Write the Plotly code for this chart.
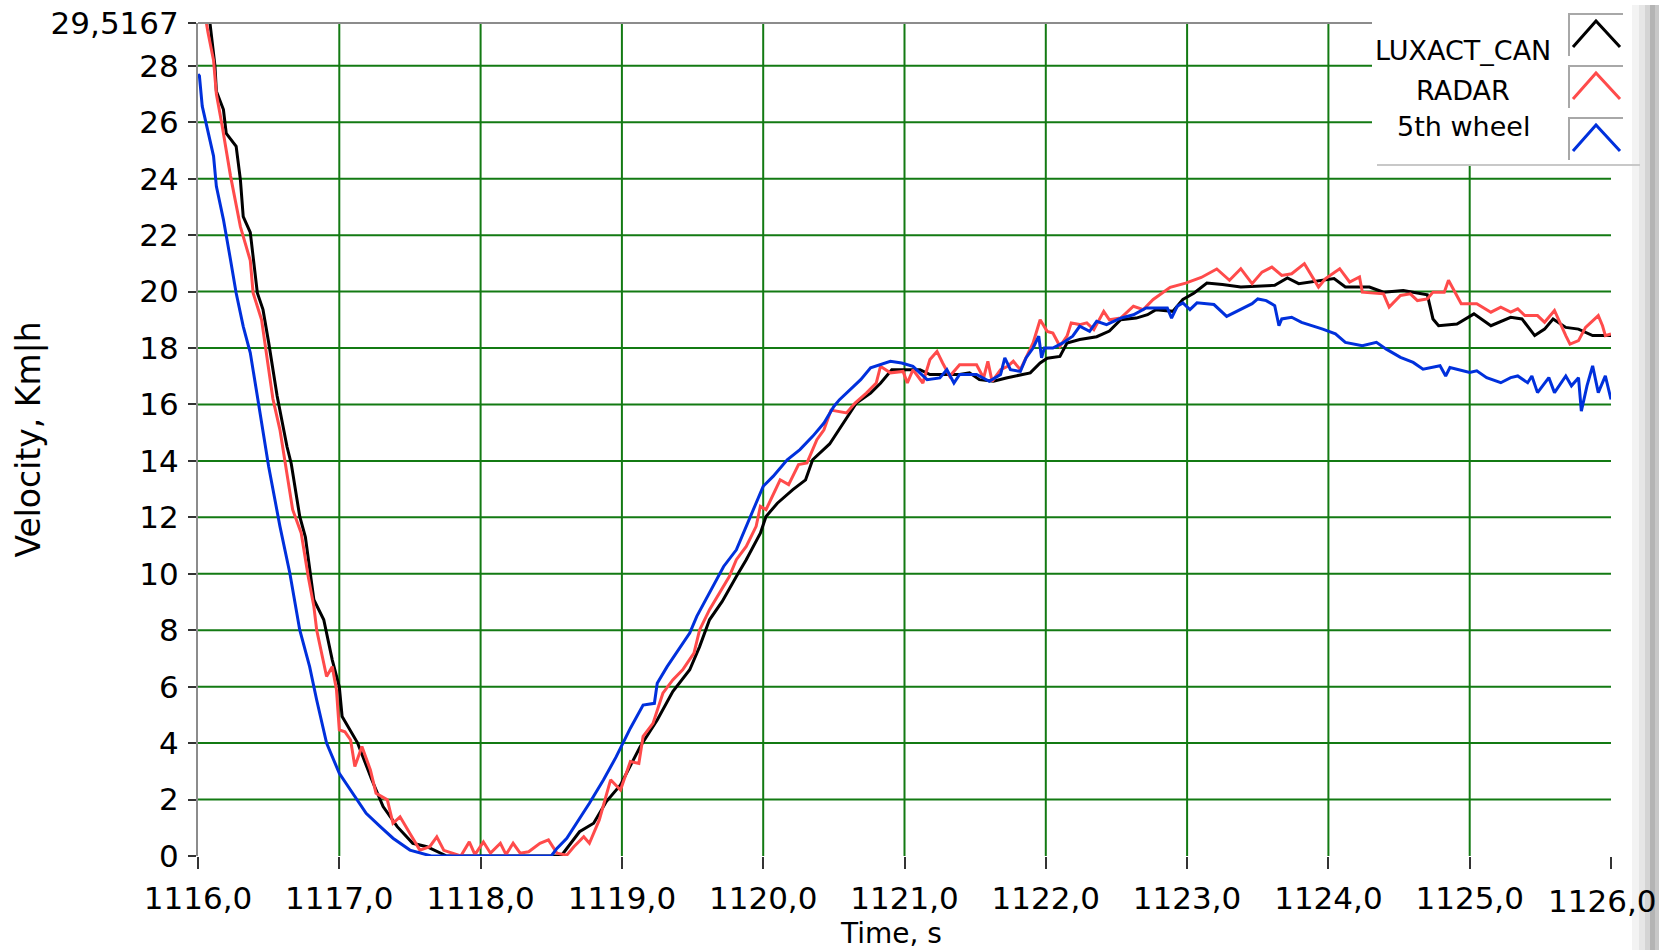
import plotly.graph_objects as go

# ---------------- data ----------------
t_lux = [1116.06, 1116.085, 1116.12, 1116.13, 1116.18, 1116.20, 1116.27, 1116.30, 1116.32, 1116.37,
         1116.42, 1116.46, 1116.50, 1116.56, 1116.63, 1116.66, 1116.72, 1116.76, 1116.82, 1116.89,
         1116.95, 1117.00, 1117.02, 1117.13, 1117.23, 1117.31, 1117.41, 1117.52, 1117.62, 1117.76,
         1118.57, 1118.63, 1118.70, 1118.80, 1118.89, 1118.99, 1119.13, 1119.25, 1119.36, 1119.48,
         1119.55, 1119.62, 1119.71, 1119.81, 1119.88, 1119.98, 1120.02, 1120.10, 1120.21, 1120.30,
         1120.35, 1120.47, 1120.57, 1120.66, 1120.76, 1120.83, 1120.91, 1121.11, 1121.18, 1121.39,
         1121.46, 1121.53, 1121.63, 1121.72, 1121.89, 1121.96, 1122.01, 1122.10, 1122.15, 1122.24,
         1122.36, 1122.45, 1122.53, 1122.64, 1122.72, 1122.78, 1122.90, 1122.97, 1123.05, 1123.14,
         1123.25, 1123.38, 1123.62, 1123.71, 1123.79, 1123.98, 1124.04, 1124.12, 1124.29, 1124.39,
         1124.53, 1124.70, 1124.74, 1124.78, 1124.91, 1125.03, 1125.15, 1125.29, 1125.37, 1125.46,
         1125.53, 1125.59, 1125.68, 1125.77, 1125.87, 1126.00]
v_lux = [30.3, 29.5, 28.0, 27.1, 26.45, 25.6, 25.15, 23.97, 22.66, 22.1,
         19.95, 19.36, 18.2, 16.3, 14.5, 13.9, 12.03, 11.3, 9.08, 8.37,
         6.95, 6.0, 4.94, 4.0, 2.7, 1.75, 1.04, 0.45, 0.33, 0.0,
         0.0, 0.39, 0.86, 1.16, 1.93, 2.52, 3.88, 4.82, 5.83, 6.6,
         7.42, 8.37, 9.02, 9.9, 10.5, 11.44, 12.03, 12.5, 12.98, 13.33,
         14.04, 14.6, 15.34, 16.05, 16.4, 16.75, 17.23, 17.23, 17.06, 17.06,
         17.12, 16.88, 16.82, 16.94, 17.12, 17.47, 17.64, 17.7, 18.18, 18.3,
         18.4, 18.6, 19.0, 19.06, 19.18, 19.36, 19.3, 19.72, 19.95, 20.3,
         20.25, 20.16, 20.22, 20.48, 20.28, 20.4, 20.46, 20.16, 20.16, 19.98,
         20.04, 19.89, 19.03, 18.79, 18.85, 19.21, 18.79, 19.09, 19.03, 18.44,
         18.67, 19.03, 18.73, 18.67, 18.44, 18.44]

t_radar = [1116.05, 1116.06, 1116.07, 1116.11, 1116.13, 1116.17, 1116.23, 1116.30, 1116.37, 1116.39,
           1116.45, 1116.50, 1116.53, 1116.58, 1116.63, 1116.67, 1116.73, 1116.78, 1116.82, 1116.84,
           1116.89, 1116.91, 1116.95, 1116.98, 1117.00, 1117.04, 1117.08, 1117.11, 1117.16, 1117.22,
           1117.26, 1117.34, 1117.38, 1117.43, 1117.50, 1117.57, 1117.64, 1117.69, 1117.74, 1117.80,
           1117.86, 1117.92, 1117.96, 1118.02, 1118.07, 1118.14, 1118.18, 1118.23, 1118.28, 1118.34,
           1118.42, 1118.48, 1118.54, 1118.61, 1118.66, 1118.73, 1118.77, 1118.84, 1118.92, 1118.99,
           1119.06, 1119.12, 1119.15, 1119.22, 1119.29, 1119.36, 1119.43, 1119.51, 1119.55, 1119.62,
           1119.69, 1119.76, 1119.81, 1119.88, 1119.95, 1119.98, 1120.02, 1120.12, 1120.18, 1120.25,
           1120.31, 1120.38, 1120.43, 1120.48, 1120.59, 1120.65, 1120.73, 1120.80, 1120.83, 1120.90,
           1120.99, 1121.02, 1121.06, 1121.13, 1121.18, 1121.23, 1121.27, 1121.32, 1121.39, 1121.51,
           1121.56, 1121.59, 1121.62, 1121.68, 1121.73, 1121.77, 1121.82, 1121.86, 1121.91, 1121.96,
           1122.01, 1122.05, 1122.10, 1122.15, 1122.18, 1122.24, 1122.29, 1122.34, 1122.41, 1122.45,
           1122.53, 1122.62, 1122.69, 1122.76, 1122.88, 1122.99, 1123.10, 1123.21, 1123.30, 1123.38,
           1123.46, 1123.53, 1123.60, 1123.67, 1123.74, 1123.83, 1123.90, 1123.93, 1123.98, 1124.08,
           1124.15, 1124.22, 1124.24, 1124.39, 1124.43, 1124.51, 1124.58, 1124.63, 1124.70, 1124.74,
           1124.82, 1124.85, 1124.94, 1125.05, 1125.15, 1125.22, 1125.29, 1125.34, 1125.39, 1125.48,
           1125.53, 1125.60, 1125.68, 1125.71, 1125.77, 1125.82, 1125.91, 1125.94, 1125.96, 1126.00]
v_radar = [30.2, 29.5, 29.2, 28.2, 27.0, 25.9, 24.1, 22.3, 21.1, 19.95,
           19.0, 17.35, 16.2, 15.1, 13.45, 12.27, 11.45, 9.9, 8.84, 8.01,
           6.83, 6.36, 6.71, 5.89, 4.47, 4.4, 4.11, 3.17, 3.88, 3.05,
           2.22, 1.99, 1.16, 1.39, 0.8, 0.21, 0.33, 0.68, 0.2, 0.1,
           0.0, 0.5, 0.05, 0.5, 0.1, 0.45, 0.05, 0.45, 0.1, 0.15,
           0.45, 0.57, 0.1, 0.03, 0.33, 0.68, 0.45, 1.28, 2.7, 2.34,
           3.35, 3.28, 4.24, 4.7, 5.77, 6.24, 6.6, 7.19, 8.01, 8.73,
           9.32, 9.9, 10.5, 10.97, 11.68, 12.39, 12.27, 13.33, 13.16, 13.87,
           13.93, 14.75, 15.1, 15.8, 15.7, 16.05, 16.4, 16.76, 17.35, 17.12,
           17.17, 16.76, 17.23, 16.76, 17.59, 17.88, 17.47, 17.0, 17.41, 17.41,
           16.94, 17.53, 16.82, 17.23, 17.35, 17.53, 17.23, 17.65, 18.18, 19.0,
           18.59, 18.53, 18.06, 18.42, 18.89, 18.83, 18.89, 18.65, 19.3, 19.0,
           19.06, 19.48, 19.36, 19.72, 20.15, 20.3, 20.5, 20.8, 20.4, 20.81,
           20.28, 20.69, 20.87, 20.57, 20.63, 20.99, 20.4, 20.16, 20.46, 20.81,
           20.34, 20.52, 19.98, 19.92, 19.45, 19.86, 19.92, 19.68, 19.74, 19.98,
           19.98, 20.4, 19.57, 19.57, 19.27, 19.45, 19.27, 19.39, 19.15, 19.15,
           18.91, 19.33, 18.44, 18.14, 18.26, 18.73, 19.15, 18.79, 18.44, 18.5]

t_wheel = [1116.00, 1116.01, 1116.03, 1116.06, 1116.11, 1116.13, 1116.18, 1116.23, 1116.27, 1116.32,
           1116.37, 1116.42, 1116.50, 1116.58, 1116.65, 1116.72, 1116.75, 1116.79, 1116.84, 1116.91,
           1117.00, 1117.10, 1117.19, 1117.29, 1117.38, 1117.50, 1117.57, 1117.65, 1118.50, 1118.54,
           1118.61, 1118.68, 1118.77, 1118.87, 1118.96, 1119.06, 1119.15, 1119.23, 1119.25, 1119.32,
           1119.39, 1119.48, 1119.53, 1119.62, 1119.72, 1119.81, 1119.88, 1119.95, 1120.00, 1120.07,
           1120.17, 1120.26, 1120.35, 1120.43, 1120.50, 1120.54, 1120.59, 1120.69, 1120.76, 1120.83,
           1120.90, 1120.98, 1121.06, 1121.16, 1121.25, 1121.30, 1121.35, 1121.39, 1121.51, 1121.60,
           1121.68, 1121.71, 1121.75, 1121.82, 1121.86, 1121.91, 1121.95, 1121.97, 1121.99, 1122.05,
           1122.12, 1122.19, 1122.24, 1122.31, 1122.36, 1122.43, 1122.53, 1122.62, 1122.71, 1122.78,
           1122.86, 1122.89, 1122.93, 1122.97, 1123.02, 1123.07, 1123.19, 1123.28, 1123.37, 1123.46,
           1123.50, 1123.56, 1123.62, 1123.65, 1123.67, 1123.74, 1123.81, 1123.89, 1123.96, 1124.05,
           1124.12, 1124.24, 1124.34, 1124.41, 1124.51, 1124.60, 1124.67, 1124.79, 1124.83, 1124.86,
           1125.00, 1125.05, 1125.12, 1125.22, 1125.29, 1125.34, 1125.41, 1125.44, 1125.48, 1125.56,
           1125.60, 1125.68, 1125.72, 1125.77, 1125.79, 1125.83, 1125.87, 1125.91, 1125.96, 1126.00]
v_wheel = [27.7, 27.64, 26.57, 25.86, 24.8, 23.73, 22.55, 21.13, 19.95, 18.77,
           17.83, 16.29, 13.8, 11.68, 10.02, 8.01, 7.42, 6.71, 5.53, 4.0,
           2.93, 2.16, 1.51, 1.04, 0.63, 0.21, 0.1, 0.0, 0.0, 0.27,
           0.63, 1.16, 1.87, 2.7, 3.52, 4.53, 5.35, 5.41, 6.12, 6.71,
           7.24, 7.9, 8.49, 9.32, 10.26, 10.85, 11.68, 12.45, 13.1, 13.45,
           14.04, 14.4, 14.87, 15.34, 15.93, 16.17, 16.4, 16.88, 17.3, 17.41,
           17.53, 17.47, 17.35, 16.88, 16.94, 17.23, 16.76, 17.06, 17.06, 16.82,
           17.06, 17.65, 17.23, 17.17, 17.65, 18.0, 18.42, 17.65, 18.0, 18.0,
           18.18, 18.42, 18.77, 18.59, 18.95, 18.83, 19.06, 19.18, 19.42, 19.42,
           19.42, 19.06, 19.48, 19.6, 19.36, 19.6, 19.54, 19.12, 19.36, 19.57,
           19.74, 19.68, 19.5, 18.79, 19.03, 19.09, 18.91, 18.79, 18.67, 18.5,
           18.2, 18.08, 18.2, 17.96, 17.67, 17.49, 17.25, 17.37, 17.01, 17.31,
           17.13, 17.19, 16.95, 16.77, 16.95, 17.01, 16.77, 17.01, 16.42, 16.95,
           16.42, 17.01, 16.66, 16.95, 15.76, 16.66, 17.37, 16.42, 17.01, 16.18]

series_names = ["LUXACT_CAN", "RADAR", "5th wheel"]
series_colors = ["#000000", "#ff4b4b", "#0030dc"]

x_ticks = [1116, 1117, 1118, 1119, 1120, 1121, 1122, 1123, 1124, 1125, 1126]
x_ticktext = ["1116,0", "1117,0", "1118,0", "1119,0", "1120,0", "1121,0",
              "1122,0", "1123,0", "1124,0", "1125,0", ""]
last_x_label = "1126,0"
y_ticks = [0, 2, 4, 6, 8, 10, 12, 14, 16, 18, 20, 22, 24, 26, 28, 29.5167]
y_ticktext = ["0", "2", "4", "6", "8", "10", "12", "14", "16", "18", "20",
              "22", "24", "26", "28", "29,5167"]
x_grid = [1117, 1118, 1119, 1120, 1121, 1122, 1123, 1124, 1125]
y_grid = [2, 4, 6, 8, 10, 12, 14, 16, 18, 20, 22, 24, 26, 28]

# ---------------- figure ----------------
W, H = 1659, 950
PL, PR, PT, PB = 198, 1611, 23, 856


def px(x):
    return (x - PL) / (PR - PL)


def py(y):
    return (PB - y) / (PB - PT)


fig = go.Figure()
for tt, vv, name, col in zip([t_lux, t_radar, t_wheel], [v_lux, v_radar, v_wheel],
                             series_names, series_colors):
    fig.add_trace(go.Scatter(x=tt, y=vv, mode="lines", name=name,
                             line=dict(color=col, width=3), showlegend=False))

grid_col = "#137a13"
tick_font = dict(family="DejaVu Sans", size=31, color="#000000")

fig.update_xaxes(range=[1116, 1126], tickvals=x_ticks, ticktext=x_ticktext,
                 showgrid=False, zeroline=False, automargin=False,
                 ticks="outside", ticklen=12, tickwidth=2, tickcolor="#333333",
                 showline=False, tickfont=tick_font, ticklabelstandoff=3)
fig.update_yaxes(range=[0, 29.5167], tickvals=y_ticks, ticktext=y_ticktext,
                 showgrid=False, zeroline=False, automargin=False,
                 ticks="outside", ticklen=8, tickwidth=2, tickcolor="#333333",
                 showline=True, linecolor="#8c8c8c", linewidth=2,
                 tickfont=tick_font, ticklabelstandoff=3, ticklabeloverflow="allow",
                 title=dict(text="Velocity, Km|h",
                            font=dict(family="DejaVu Sans", size=33, color="#000000"),
                            standoff=0))

shapes = []
# grid lines (no line on the frame edges)
for gx in x_grid:
    shapes.append(dict(type="line", xref="x", yref="paper", x0=gx, x1=gx, y0=0, y1=1,
                       line=dict(color=grid_col, width=2), layer="below"))
for gy in y_grid:
    shapes.append(dict(type="line", xref="paper", yref="y", x0=0, x1=1, y0=gy, y1=gy,
                       line=dict(color=grid_col, width=2), layer="below"))
# top frame line
shapes.append(dict(type="line", xref="paper", yref="paper", x0=0, x1=1, y0=1, y1=1,
                   line=dict(color="#8c8c8c", width=2), layer="above"))
# right grey strip (gradient imitation), behind tick labels
strip = [(1632, 1639, "#f3f3f3"), (1639, 1645, "#e6e6e6"), (1645, 1650, "#d4d4d4"),
         (1650, 1655, "#b4b4b4"), (1655, 1659, "#c8c8c8")]
for x0, x1, c in strip:
    shapes.append(dict(type="rect", xref="paper", yref="paper", x0=px(x0), x1=px(x1),
                       y0=py(960), y1=py(5), fillcolor=c, line=dict(width=0), layer="below"))
# legend box
shapes.append(dict(type="rect", xref="paper", yref="paper", x0=px(1372), x1=px(1632),
                   y0=py(165), y1=py(-5), fillcolor="#ffffff", line=dict(width=0), layer="above"))
shapes.append(dict(type="line", xref="paper", yref="paper", x0=px(1377), x1=px(1640),
                   y0=py(165), y1=py(165), line=dict(color="#c8c8c8", width=2), layer="above"))
icon_tops = [14, 66, 118]
label_ys = [51, 91, 127]
for top, col in zip(icon_tops, series_colors):
    bot = top + 42
    shapes.append(dict(type="path", xref="paper", yref="paper",
                       path=f"M {px(1569)},{py(bot)} L {px(1569)},{py(top)} L {px(1623)},{py(top)}",
                       line=dict(color="#a8a8a8", width=2), layer="above"))
    shapes.append(dict(type="path", xref="paper", yref="paper",
                       path=f"M {px(1573)},{py(top + 33)} L {px(1596)},{py(top + 7)} L {px(1620)},{py(top + 33)}",
                       line=dict(color=col, width=3), layer="above"))

annotations = []
for name, ly in zip(series_names, label_ys):
    annotations.append(dict(text=name, xref="paper", yref="paper", x=px(1463), y=py(ly),
                            xanchor="center", yanchor="middle", showarrow=False,
                            font=dict(family="DejaVu Sans", size=27, color="#000000")))
# last x tick label, kept inside the page
annotations.append(dict(text=last_x_label, xref="paper", yref="paper", x=px(1658), y=py(901),
                        xanchor="right", yanchor="middle", showarrow=False,
                        font=tick_font))
# x axis title
annotations.append(dict(text="Time, s", xref="paper", yref="paper", x=px(891), y=py(933),
                        xanchor="center", yanchor="middle", showarrow=False,
                        font=dict(family="DejaVu Sans", size=28, color="#000000")))

fig.update_layout(width=W, height=H, margin=dict(l=PL, r=W - PR, t=PT, b=H - PB),
                  paper_bgcolor="#ffffff", plot_bgcolor="#ffffff",
                  shapes=shapes, annotations=annotations, showlegend=False)

fig.write_html("out.html")
